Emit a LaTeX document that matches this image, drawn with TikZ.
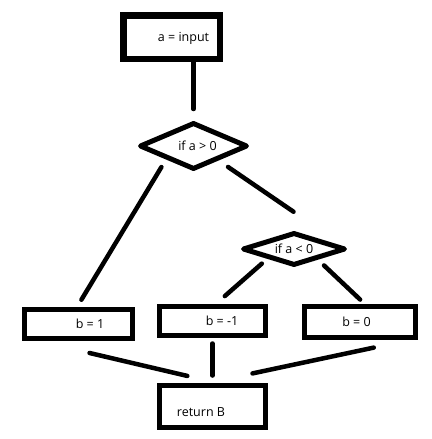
\documentclass[tikz,border=0pt]{standalone}
\usepackage{fontspec}
\setmainfont{Open Sans}
\usetikzlibrary{shapes.geometric}

\begin{document}
\begin{tikzpicture}[x=1pt,y=-1pt,
    box/.style={draw,line width=5pt,inner sep=0pt,text height=8.9pt,text depth=0pt,
      font=\fontsize{12.5pt}{15pt}\selectfont},
    test/.style={draw,diamond,aspect=2,line width=5pt,line join=round,inner sep=0pt,
      text height=8.9pt,text depth=0pt,font=\fontsize{12.5pt}{15pt}\selectfont},
    wire/.style={line width=4.5pt,line cap=round}]
      \useasboundingbox (0,0) rectangle (431,439);

      % Input box
      \node[box,line width=6.5pt,minimum width=96.5pt,minimum height=43.5pt] (input) at (171.5,37) {\hspace*{24pt}a = input};

      % Tests
      \node[test,minimum width=108pt,minimum height=47pt] (pos) at (193.5,146) {\hspace*{8pt}if a > 0};
      \node[test,minimum width=103pt,minimum height=33pt] (neg) at (294,249) {if a < 0};

      % Results
      \node[box,minimum width=108pt,minimum height=29pt] (one) at (78.5,324) {\hspace*{23pt}b = 1};
      \node[box,minimum width=106pt,minimum height=29pt] (minus) at (212.5,321) {\hspace*{19pt}b = -1};
      \node[box,minimum width=111pt,minimum height=31pt] (zero) at (360,322) {b = 0\hspace*{7pt}};

      % Return box
      \node[box,minimum width=106pt,minimum height=42pt,text height=19.9pt] (ret) at (212.5,406.5) {return B\hspace*{23pt}};

      % Input to first test
      \draw[wire,shorten >=11pt] (input.south -| pos.north) -- (pos.north);

      % Out of the first test
      \draw[wire,shorten <=9pt,shorten >=8.5pt] (pos.206) -- (one.95);
      \draw[wire,shorten <=11.5pt,shorten >=66pt] (pos.330) -- (neg.east);

      % Out of the second test
      \draw[wire,shorten <=7.5pt,shorten >=12pt] (neg.200) -- (minus.79);
      \draw[wire,shorten <=8.5pt,shorten >=6.5pt] (neg.336) -- (zero.75);

      % Into the return box
      \draw[wire,shorten <=52.5pt,shorten >=31pt] (one.203) -- (ret.78);
      \draw[wire,shorten <=5.5pt,shorten >=7.5pt] (minus.south) -- (ret.north);
      \draw[wire,shorten <=36.5pt,shorten >=46pt] (zero.340) -- (ret.102);

    \end{tikzpicture}
\end{document}
